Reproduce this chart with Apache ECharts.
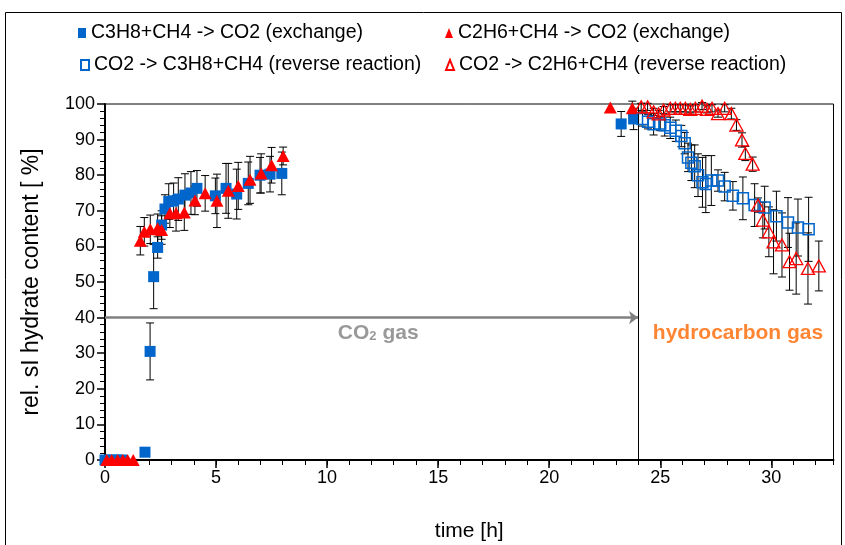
<!DOCTYPE html>
<html>
<head>
<meta charset="utf-8">
<script src="https://cdn.jsdelivr.net/npm/echarts@6/dist/echarts.min.js"></script>
<style>html,body{margin:0;padding:0;background:#fff}#c{width:845px;height:545px}</style>
</head>
<body>
<div id="c"></div>
<script>
// ---- data ----
var seriesNames = [
  'C3H8+CH4 -> CO2 (exchange)',
  'C2H6+CH4 -> CO2 (exchange)',
  'CO2 -> C3H8+CH4 (reverse reaction)',
  'CO2 -> C2H6+CH4 (reverse reaction)'
];
var timeA = [0, 0.25, 0.5, 0.75, 1.8, 2.03, 2.19, 2.37, 2.55, 2.7, 2.87, 3.09, 3.3, 3.6, 3.87, 4.14, 4.97, 5.45, 5.93, 6.45, 6.98, 7.43, 7.96, 23.24, 23.8];
var valA  = [0, 0, 0, 0, 2.2, 30.5, 51.5, 59.7, 66, 70.5, 72.6, 72.8, 73.3, 74.4, 75, 76.3, 74.2, 76.3, 74.7, 77.7, 80, 80.3, 80.5, 94.4, 95.8];
var errA  = [0, 0, 0, 0, 1, 8, 9, 3, 4, 4, 5, 5, 6, 6, 6, 5, 5, 7, 7, 6, 5, 5, 6, 3.5, 3];

var timeB = [0.08, 0.3, 0.57, 0.8, 1.02, 1.27, 1.59, 1.77, 2.04, 2.37, 2.55, 2.92, 3.2, 3.57, 4.05, 4.51, 5.04, 5.55, 6.0, 6.53, 7.03, 7.5, 8.02, 22.75, 23.74];
var valB  = [0, 0, 0, 0, 0, 0, 61.6, 64.1, 64.8, 65.1, 64.6, 69.3, 69.3, 69.5, 72.9, 74.9, 72.8, 75.6, 77, 78.7, 80.5, 82.8, 85.4, 99, 98.8];
var errB  = [0, 0, 0, 0, 0, 0, 4, 4, 4, 4, 4, 4, 5, 5, 4, 5, 7.5, 7.7, 6.6, 6.6, 5.5, 5, 2.5, 0, 2];

var timeC = [24.2, 24.45, 24.7, 25.0, 25.2, 25.45, 25.7, 25.95, 26.1, 26.25, 26.4, 26.55, 26.7, 26.9, 27.05, 27.3, 27.6, 27.9, 28.27, 28.72, 29.25, 29.7, 30.23, 30.75, 31.2, 31.68];
var valC  = [95.8, 95, 94.3, 94.5, 94, 93.3, 92.5, 91, 89, 85, 83.5, 82.5, 80, 78, 77.5, 78.5, 78.5, 76.8, 74.2, 73.5, 71.6, 70.9, 68.5, 66.7, 65.3, 64.8];
var errC  = [2, 2, 3, 2, 3, 3, 3, 3, 3, 4, 5, 6, 6, 7, 8, 7, 3, 4, 4, 6, 6, 6, 7, 7, 8, 9];

var timeD = [24.14, 24.43, 24.7, 24.93, 25.15, 25.45, 25.68, 25.9, 26.13, 26.35, 26.58, 26.88, 27.1, 27.33, 27.6, 27.9, 28.2, 28.43, 28.68, 28.83, 29.16, 29.4, 29.62, 29.89, 30.1, 30.48, 30.82, 31.12, 31.65, 32.14];
var valD  = [99.2, 99.2, 97.8, 97.2, 98.3, 98.8, 98.8, 98.8, 98.8, 98.5, 98.8, 99.4, 98.5, 98.8, 97.3, 98.8, 97.3, 94.1, 89.9, 86.1, 83.1, 71.6, 67.4, 64.1, 61.3, 60.4, 55.7, 56.6, 53.8, 54.5];
var errD  = [1, 1, 1, 1, 1, 1, 1, 1, 1, 1, 1, 1, 1, 1, 1, 1, 1.5, 1.5, 2, 2, 2, 2, 5, 7, 9, 9, 8, 10, 10, 7];

var xTickLabels = [0, 5, 10, 15, 20, 25, 30];
var switchTime = 24;
var arrowLevel = 40;
var arrowCO2 = [0, 24];
var arrowHC = [24, 33];
var labelCO2Pos = [12.3, 35.7];
var labelHCPos = [28.5, 35.7];

// ---- build ----
var BLUE = '#0066CC', RED = '#FF0000', GREY = '#808080', ORANGE = '#FF6600';
var FONT = "'Liberation Sans',Arial,sans-serif";
function zip(t, v, e) { return t.map(function (x, i) { return [x, v[i], e[i]]; }); }

function errBarSeries(data) {
  return {
    type: 'custom',
    silent: true,
    data: data.filter(function (d) { return d[2] > 0; }),
    encode: { x: 0, y: 1 },
    renderItem: function (params, api) {
      var x = api.value(0), y = api.value(1), e = api.value(2);
      var top = api.coord([x, y + e]);
      var bot = api.coord([x, y - e]);
      var hw = 4;
      var st = { stroke: '#000', lineWidth: 1 };
      return {
        type: 'group',
        children: [
          { type: 'line', shape: { x1: top[0], y1: top[1], x2: bot[0], y2: bot[1] }, style: st },
          { type: 'line', shape: { x1: top[0] - hw, y1: top[1], x2: top[0] + hw, y2: top[1] }, style: st },
          { type: 'line', shape: { x1: bot[0] - hw, y1: bot[1], x2: bot[0] + hw, y2: bot[1] }, style: st }
        ]
      };
    },
    z: 2
  };
}

var dA = zip(timeA, valA, errA), dB = zip(timeB, valB, errB), dC = zip(timeC, valC, errC), dD = zip(timeD, valD, errD);

var legendFont = { fontFamily: FONT, fontSize: 19.5, color: '#000', lineHeight: 22 };
function legendAt(name, left, top) {
  return { data: [name], left: left, top: top, padding: 0, itemWidth: 8, itemHeight: 10, itemGap: 0, textStyle: legendFont, selectedMode: false };
}

var chart = echarts.init(document.getElementById('c'), null, { renderer: 'canvas' });
var option = {
  animation: false,
  backgroundColor: '#fff',
  textStyle: { fontFamily: FONT },
  grid: { left: 105, right: 11.5, top: 104, bottom: 85, show: true, borderColor: '#000', borderWidth: 1,
    backgroundColor: 'transparent', containLabel: false, outerBoundsMode: 'none' },
  legend: [
    legendAt(seriesNames[0], 78, 22),
    legendAt(seriesNames[1], 445, 22),
    legendAt(seriesNames[2], 80, 54),
    legendAt(seriesNames[3], 445, 54)
  ],
  graphic: [
    { type: 'rect', shape: { x: 5.5, y: 12.5, width: 836, height: 545 }, style: { fill: 'none', stroke: '#000', lineWidth: 1 }, silent: true, z: -1 }
  ],
  xAxis: [
    {
      type: 'value', min: 0, max: 32.8, interval: 5,
      axisLine: { show: true, onZero: false, lineStyle: { color: '#000', width: 2 } },
      axisTick: { show: true, inside: false, length: 8, lineStyle: { color: '#000', width: 1.5 }, customValues: xTickLabels },
      axisLabel: { show: true, fontSize: 18, color: '#000', margin: 9, customValues: xTickLabels,
        formatter: function (v) { return (v % 5 === 0) ? String(v) : ''; } },
      splitLine: { show: false },
      name: 'time [h]', nameLocation: 'middle', nameGap: 61,
      nameTextStyle: { fontSize: 21, color: '#000' }
    },
    {
      type: 'value', min: 0, max: 32.8, interval: 1, position: 'bottom',
      axisLine: { show: false },
      axisTick: { show: true, inside: false, length: 5, lineStyle: { color: '#000', width: 1 } },
      axisLabel: { show: false },
      splitLine: { show: false }
    }
  ],
  yAxis: {
    type: 'value', min: 0, max: 100, interval: 10,
    axisLine: { show: true, onZero: false, lineStyle: { color: '#000', width: 2 } },
    axisTick: { show: true, inside: false, length: 8, lineStyle: { color: '#000', width: 1.5 } },
    minorTick: { show: true, splitNumber: 5, length: 5, lineStyle: { color: '#000', width: 1 } },
    axisLabel: { fontSize: 18, color: '#000', margin: 10 },
    splitLine: { show: false },
    name: 'rel. sI hydrate content [ %]', nameLocation: 'middle', nameGap: 62,
    nameTextStyle: { fontSize: 23, color: '#000' }
  },
  series: [
    {
      type: 'line', data: [], clip: false, silent: true, z: 1,
      markLine: {
        silent: true, animation: false, symbolSize: [10, 9], label: { show: false },
        data: [
          [{ coord: [switchTime, 0], symbol: 'none', lineStyle: { color: '#000', width: 1, type: 'solid' } },
           { coord: [switchTime, 100], symbol: 'none' }],
          [{ coord: [arrowCO2[0], arrowLevel], symbol: 'none', lineStyle: { color: GREY, width: 2.5, type: 'solid' } },
           { coord: [arrowCO2[1], arrowLevel], symbol: 'arrow' }],
          [{ coord: [arrowHC[0], arrowLevel], symbol: 'none', lineStyle: { color: ORANGE, width: 2.5, type: 'solid' } },
           { coord: [arrowHC[1], arrowLevel], symbol: 'arrow' }]
        ]
      }
    },
    {
      type: 'scatter', silent: true, symbolSize: 0, clip: false,
      data: [
        { value: labelCO2Pos, label: { show: true, position: 'inside', formatter: 'CO{s|2} gas',
          fontSize: 21, fontWeight: 'bold', color: GREY, fontFamily: FONT,
          rich: { s: { fontSize: 13, fontWeight: 'bold', color: GREY, verticalAlign: 'bottom', lineHeight: 13, padding: [10, 0, 0, 0] } } } },
        { value: labelHCPos, label: { show: true, position: 'inside', formatter: 'hydrocarbon gas',
          fontSize: 21, fontWeight: 'bold', color: ORANGE, fontFamily: FONT } }
      ]
    },
    errBarSeries(dA),
    { name: seriesNames[0], type: 'scatter', data: dA, symbol: 'rect', symbolSize: [11, 11],
      itemStyle: { color: BLUE, opacity: 1 }, z: 3 },
    errBarSeries(dB),
    { name: seriesNames[1], type: 'scatter', data: dB, symbol: 'triangle', symbolSize: [13, 12],
      itemStyle: { color: RED, opacity: 1 }, z: 4 },
    errBarSeries(dC),
    { name: seriesNames[2], type: 'scatter', data: dC, symbol: 'rect', symbolSize: [11, 11],
      itemStyle: { color: 'rgba(255,255,255,0)', borderColor: BLUE, borderWidth: 1.5, opacity: 1 }, z: 5 },
    errBarSeries(dD),
    { name: seriesNames[3], type: 'scatter', data: dD, symbol: 'triangle', symbolSize: [13, 12],
      itemStyle: { color: 'rgba(255,255,255,0)', borderColor: RED, borderWidth: 1.3, opacity: 1 }, z: 6 }
  ]
};
chart.setOption(option);
</script>
</body>
</html>
